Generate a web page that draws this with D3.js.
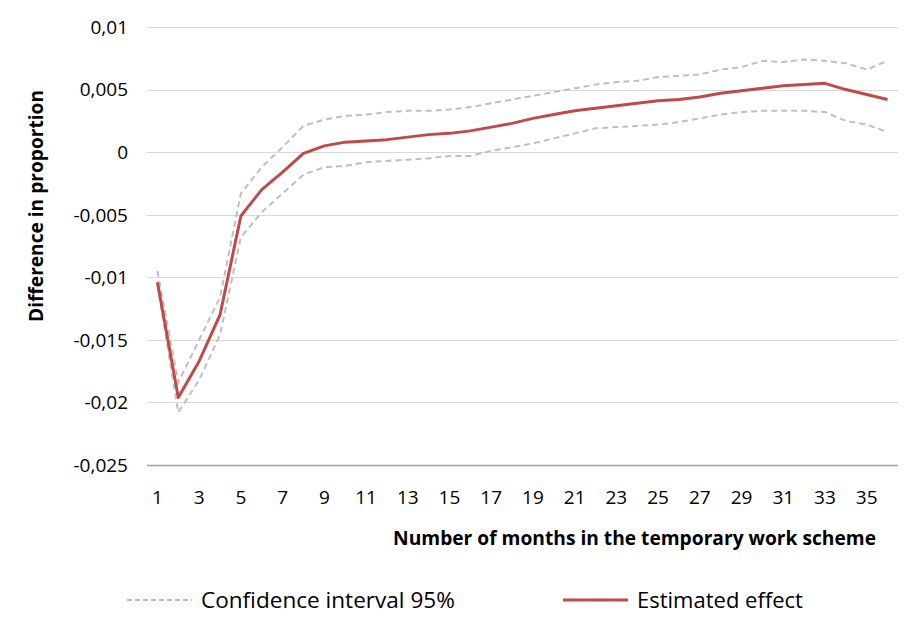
<!DOCTYPE html>
<html lang="en">
<head>
<meta charset="UTF-8">
<title>Difference in proportion by months in temporary work scheme</title>
<script src="https://d3js.org/d3.v7.min.js"></script>
<style>
    body { margin: 0; background: #fff; }
    svg { display: block; font-family: "Open Sans", "Noto Sans", sans-serif; }
    .grid line { stroke: #d9d9d9; stroke-width: 1; }
    .tick-label { fill: #000; }
</style>
</head>
<body>
<div id="chart"></div>
<script>
    // months 1..36
    var months = [1, 2, 3, 4, 5, 6, 7, 8, 9, 10, 11, 12, 13, 14, 15, 16, 17, 18,
                  19, 20, 21, 22, 23, 24, 25, 26, 27, 28, 29, 30, 31, 32, 33, 34, 35, 36];

    var estimate = [-0.0104, -0.0196, -0.0167, -0.0130, -0.0051, -0.0030, -0.0016, -0.0001,
                    0.0005, 0.0008, 0.0009, 0.0010, 0.0012, 0.0014, 0.0015, 0.0017, 0.0020, 0.0023,
                    0.0027, 0.0030, 0.0033, 0.0035, 0.0037, 0.0039, 0.0041, 0.0042, 0.0044, 0.0047,
                    0.0049, 0.0051, 0.0053, 0.0054, 0.0055, 0.0050, 0.0046, 0.0042];

    var upper = [-0.0095, -0.0184, -0.0150, -0.0116, -0.0033, -0.0012, 0.0004, 0.0021,
                 0.0026, 0.0029, 0.0030, 0.0032, 0.0033, 0.0033, 0.0034, 0.0036, 0.0039, 0.0042,
                 0.0045, 0.0048, 0.0051, 0.0054, 0.0056, 0.0057, 0.0060, 0.0061, 0.0062, 0.0066,
                 0.0068, 0.0073, 0.0072, 0.0074, 0.0073, 0.0071, 0.0066, 0.0073];

    var lower = [-0.0106, -0.0208, -0.0182, -0.0146, -0.0068, -0.0048, -0.0033, -0.0018,
                 -0.0012, -0.0011, -0.0008, -0.0007, -0.0006, -0.0005, -0.0003, -0.0003, 0.0001, 0.0004,
                 0.0007, 0.0011, 0.0015, 0.0019, 0.0020, 0.0021, 0.0022, 0.0024, 0.0027, 0.0030,
                 0.0032, 0.0033, 0.0033, 0.0033, 0.0032, 0.0025, 0.0022, 0.0016];

    var yTicks = [0.01, 0.005, 0, -0.005, -0.01, -0.015, -0.02, -0.025];
    var yTickLabels = ["0,01", "0,005", "0", "-0,005", "-0,01", "-0,015", "-0,02", "-0,025"];
    var xTickLabels = months.filter(m => m % 2 === 1);

    var width = 907, height = 628;
    var plot = {left: 147, right: 898, top: 27, bottom: 465};

    var svg = d3.select("#chart").append("svg")
        .attr("width", width)
        .attr("height", height);

    var x = d3.scaleBand()
        .domain(months)
        .range([plot.left, plot.right]);

    var y = d3.scaleLinear()
        .domain([-0.025, 0.01])
        .range([plot.bottom, plot.top]);

    // make a text element fill a given width (stand-in for Calibri metrics)
    function fitWidth(text, target) {
        var w = text.node().getComputedTextLength();
        var fs = parseFloat(text.attr("font-size"));
        text.attr("font-size", fs * target / w);
    }

    // gridlines
    svg.append("g").attr("class", "grid")
        .selectAll("line")
        .data(yTicks.filter(d => d !== -0.025))
        .enter().append("line")
            .attr("x1", plot.left)
            .attr("x2", plot.right)
            .attr("y1", d => Math.round(y(d)) + 0.5)
            .attr("y2", d => Math.round(y(d)) + 0.5);

    // bottom axis line
    svg.append("line")
        .attr("x1", plot.left)
        .attr("x2", plot.right)
        .attr("y1", Math.round(y(-0.025)) + 0.5)
        .attr("y2", Math.round(y(-0.025)) + 0.5)
        .attr("stroke", "#a0a0a0")
        .attr("stroke-width", 1.3);

    // y tick labels
    svg.append("g")
        .selectAll("text")
        .data(yTicks)
        .enter().append("text")
            .attr("class", "tick-label")
            .attr("x", 128)
            .attr("y", d => y(d))
            .attr("dy", "0.36em")
            .attr("text-anchor", "end")
            .attr("font-size", 19)
            .text((d, i) => yTickLabels[i]);

    // x tick labels
    svg.append("g")
        .selectAll("text")
        .data(xTickLabels)
        .enter().append("text")
            .attr("class", "tick-label")
            .attr("x", d => x(d) + x.bandwidth() / 2)
            .attr("y", 497)
            .attr("dy", "0.36em")
            .attr("text-anchor", "middle")
            .attr("font-size", 19)
            .text(d => d);

    // axis titles
    var xTitle = svg.append("text")
        .attr("x", 876)
        .attr("y", 538)
        .attr("dy", "0.36em")
        .attr("text-anchor", "end")
        .attr("font-weight", "bold")
        .attr("font-size", 16)
        .text("Number of months in the temporary work scheme");
    fitWidth(xTitle, 483);

    var yTitle = svg.append("text")
        .attr("transform", "translate(36,206) rotate(-90)")
        .attr("dy", "0.36em")
        .attr("text-anchor", "middle")
        .attr("font-weight", "bold")
        .attr("font-size", 16)
        .text("Difference in proportion");
    fitWidth(yTitle, 232);

    var line = d3.line()
        .x(d => x(d.m) + x.bandwidth() / 2)
        .y(d => y(d.v));

    function series(vals) {
        return months.map((m, i) => ({m: m, v: vals[i]}));
    }

    svg.append("path")
        .datum(series(upper))
        .attr("d", line)
        .attr("fill", "none")
        .attr("stroke", "#bfbfbf")
        .attr("stroke-width", 2)
        .attr("stroke-dasharray", "6,4");

    svg.append("path")
        .datum(series(lower))
        .attr("d", line)
        .attr("fill", "none")
        .attr("stroke", "#bfbfbf")
        .attr("stroke-width", 2)
        .attr("stroke-dasharray", "6,4");

    svg.append("path")
        .datum(series(estimate))
        .attr("d", line)
        .attr("fill", "none")
        .attr("stroke", "#be4b48")
        .attr("stroke-width", 3)
        .attr("stroke-linejoin", "round");

    // legend
    var legend = svg.append("g");
    legend.append("line")
        .attr("x1", 127).attr("x2", 192)
        .attr("y1", 600).attr("y2", 600)
        .attr("stroke", "#bfbfbf")
        .attr("stroke-width", 2)
        .attr("stroke-dasharray", "5,3");
    var l1 = legend.append("text")
        .attr("x", 201).attr("y", 600)
        .attr("dy", "0.36em")
        .attr("font-size", 18)
        .text("Confidence interval 95%");
    fitWidth(l1, 254);

    legend.append("line")
        .attr("x1", 563).attr("x2", 628)
        .attr("y1", 600).attr("y2", 600)
        .attr("stroke", "#be4b48")
        .attr("stroke-width", 3);
    var l2 = legend.append("text")
        .attr("x", 637).attr("y", 600)
        .attr("dy", "0.36em")
        .attr("font-size", 18)
        .text("Estimated effect");
    fitWidth(l2, 166);
</script>
</body>
</html>
